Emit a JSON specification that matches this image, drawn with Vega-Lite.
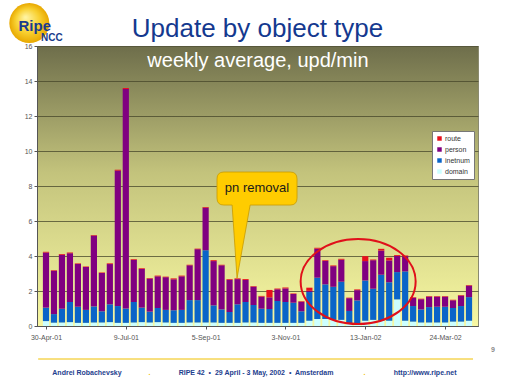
{
  "$schema": "https://vega.github.io/schema/vega-lite/v6.json",
  "width": 441,
  "height": 280,
  "autosize": {"type": "none"},
  "padding": {"left": 37, "top": 46, "right": 34, "bottom": 58},
  "background": "white",
  "title": {
    "text": "Update by object type",
    "fontSize": 26,
    "font": "Liberation Sans",
    "fontWeight": "normal",
    "color": "#14398f",
    "anchor": "middle",
    "baseline": "alphabetic",
    "offset": -60
  },
  "config": {
    "font": "Liberation Sans",
    "view": {
      "fill": {
        "gradient": "linear", "x1": 0, "y1": 0, "x2": 0, "y2": 1,
        "stops": [
          {"offset": 0, "color": "#6e6e4b"},
          {"offset": 0.45, "color": "#c3c37c"},
          {"offset": 1, "color": "#f8f8a2"}
        ]
      },
      "stroke": "#8a8a70",
      "strokeWidth": 1
    },
    "axis": {
      "labelFont": "Liberation Sans",
      "labelFontSize": 7,
      "labelColor": "#555555",
      "tickColor": "#555555",
      "domainColor": "#555555",
      "tickSize": 3
    }
  },
  "layer": [
    {
      "data": {
        "values": [
          {"w":0,"domain":0.28,"inetnum":0.77,"person":3.15,"route":0.04},
          {"w":1,"domain":0.19,"inetnum":0.49,"person":2.48,"route":0.03},
          {"w":2,"domain":0.2,"inetnum":0.79,"person":3.08,"route":0.05},
          {"w":3,"domain":0.22,"inetnum":1.15,"person":2.79,"route":0.04},
          {"w":4,"domain":0.18,"inetnum":0.92,"person":2.45,"route":0.03},
          {"w":5,"domain":0.18,"inetnum":0.74,"person":2.45,"route":0.03},
          {"w":6,"domain":0.2,"inetnum":0.92,"person":4.05,"route":0.03},
          {"w":7,"domain":0.2,"inetnum":0.64,"person":2.19,"route":0.03},
          {"w":8,"domain":0.22,"inetnum":1.02,"person":2.3,"route":0.04},
          {"w":9,"domain":0.18,"inetnum":0.96,"person":7.74,"route":0.05},
          {"w":10,"domain":0.18,"inetnum":0.82,"person":12.54,"route":0.06},
          {"w":11,"domain":0.2,"inetnum":1.17,"person":2.41,"route":0.04},
          {"w":12,"domain":0.22,"inetnum":0.83,"person":2.21,"route":0.04},
          {"w":13,"domain":0.2,"inetnum":0.62,"person":1.89,"route":0.03},
          {"w":14,"domain":0.22,"inetnum":0.81,"person":1.81,"route":0.04},
          {"w":15,"domain":0.2,"inetnum":0.72,"person":1.87,"route":0.03},
          {"w":16,"domain":0.18,"inetnum":0.72,"person":1.77,"route":0.05},
          {"w":17,"domain":0.18,"inetnum":0.74,"person":1.92,"route":0.04},
          {"w":18,"domain":0.2,"inetnum":1.28,"person":1.99,"route":0.03},
          {"w":19,"domain":0.2,"inetnum":1.28,"person":2.91,"route":0.03},
          {"w":20,"domain":0.2,"inetnum":4.13,"person":2.43,"route":0.04},
          {"w":21,"domain":0.2,"inetnum":0.98,"person":2.53,"route":0.05},
          {"w":22,"domain":0.18,"inetnum":0.77,"person":2.52,"route":0.03},
          {"w":23,"domain":0.18,"inetnum":0.62,"person":1.84,"route":0.04},
          {"w":24,"domain":0.18,"inetnum":1.06,"person":1.44,"route":0.04},
          {"w":25,"domain":0.2,"inetnum":1.17,"person":1.26,"route":0.05},
          {"w":26,"domain":0.2,"inetnum":1.0,"person":1.05,"route":0.03},
          {"w":27,"domain":0.18,"inetnum":0.81,"person":0.69,"route":0.04},
          {"w":28,"domain":0.18,"inetnum":0.79,"person":0.67,"route":0.42},
          {"w":29,"domain":0.18,"inetnum":1.25,"person":0.67,"route":0.04},
          {"w":30,"domain":0.18,"inetnum":1.19,"person":0.78,"route":0.05},
          {"w":31,"domain":0.18,"inetnum":1.15,"person":0.5,"route":0.03},
          {"w":32,"domain":0.18,"inetnum":0.66,"person":0.55,"route":0.03},
          {"w":33,"domain":0.3,"inetnum":1.64,"person":0.07,"route":0.18},
          {"w":34,"domain":0.4,"inetnum":2.36,"person":1.66,"route":0.05},
          {"w":35,"domain":0.4,"inetnum":1.98,"person":1.34,"route":0.04},
          {"w":36,"domain":0.35,"inetnum":1.89,"person":1.18,"route":0.04},
          {"w":37,"domain":0.35,"inetnum":2.18,"person":1.26,"route":0.05},
          {"w":38,"domain":0.15,"inetnum":0.71,"person":0.73,"route":0.03},
          {"w":39,"domain":0.15,"inetnum":1.31,"person":0.59,"route":0.04},
          {"w":40,"domain":0.3,"inetnum":2.3,"person":1.11,"route":0.28},
          {"w":41,"domain":0.35,"inetnum":1.78,"person":1.63,"route":0.04},
          {"w":42,"domain":0.3,"inetnum":2.63,"person":1.38,"route":0.1},
          {"w":43,"domain":0.3,"inetnum":2.2,"person":1.25,"route":0.15},
          {"w":44,"domain":1.52,"inetnum":1.56,"person":0.92,"route":0.05},
          {"w":45,"domain":0.3,"inetnum":2.82,"person":0.87,"route":0.04},
          {"w":46,"domain":0.25,"inetnum":0.89,"person":0.48,"route":0.03},
          {"w":47,"domain":0.2,"inetnum":0.75,"person":0.58,"route":0.03},
          {"w":48,"domain":0.2,"inetnum":0.88,"person":0.6,"route":0.03},
          {"w":49,"domain":0.2,"inetnum":0.9,"person":0.58,"route":0.03},
          {"w":50,"domain":0.2,"inetnum":0.9,"person":0.58,"route":0.03},
          {"w":51,"domain":0.25,"inetnum":0.78,"person":0.44,"route":0.03},
          {"w":52,"domain":0.25,"inetnum":0.89,"person":0.6,"route":0.03},
          {"w":53,"domain":0.3,"inetnum":1.35,"person":0.66,"route":0.03}
        ]
      },
      "transform": [
        {"fold": ["domain", "inetnum", "person", "route"], "as": ["type", "upd"]}
      ],
      "mark": {"type": "bar", "size": 6.2, "orient": "vertical"},
      "encoding": {
        "x": {
          "field": "w", "type": "quantitative", "title": null,
          "scale": {"domain": [-0.5, 53.5], "nice": false, "zero": false},
          "axis": {"title": null, "grid": false, "values": [0, 10, 20, 30, 40, 50], "labelExpr": "datum.value == 0 ? '30-Apr-01' : datum.value == 10 ? '9-Jul-01' : datum.value == 20 ? '5-Sep-01' : datum.value == 30 ? '3-Nov-01' : datum.value == 40 ? '13-Jan-02' : '24-Mar-02'", "labelPadding": 4}
        },
        "y": {
          "field": "upd", "type": "quantitative", "stack": "zero", "title": null,
          "scale": {"domain": [0, 16], "nice": false},
          "axis": {"title": null, "values": [0, 2, 4, 6, 8, 10, 12, 14, 16], "grid": true, "gridColor": "#45452a", "gridOpacity": 0.75, "labelPadding": 2, "labelOverlap": false}
        },
        "color": {
          "field": "type", "type": "nominal",
          "scale": {
            "domain": ["route", "person", "inetnum", "domain"],
            "range": ["#e8101c", "#800080", "#0a64c8", "#ccffff"]
          },
          "legend": {
            "title": null, "orient": "none", "legendX": 395, "legendY": 85,
            "fillColor": "white", "strokeColor": "#777777", "padding": 4,
            "labelFontSize": 7, "labelColor": "#333333", "symbolType": "square",
            "symbolSize": 20, "symbolStrokeWidth": 0, "rowPadding": 3, "labelOffset": 2
          }
        },
        "order": {"field": "type", "sort": "ascending"}
      }
    },
    {
      "data": {"values": [{"w": 26.56, "v": 14.8, "label": "weekly average, upd/min"}]},
      "mark": {"type": "text", "fontSize": 20, "color": "white", "align": "center", "baseline": "alphabetic", "font": "Liberation Sans"},
      "encoding": {
        "x": {"field": "w", "type": "quantitative", "title": null, "scale": {"domain": [-0.5, 53.5], "nice": false, "zero": false},
          "axis": {"title": null, "grid": false, "values": [0, 10, 20, 30, 40, 50], "labelExpr": "datum.value == 0 ? '30-Apr-01' : datum.value == 10 ? '9-Jul-01' : datum.value == 20 ? '5-Sep-01' : datum.value == 30 ? '3-Nov-01' : datum.value == 40 ? '13-Jan-02' : '24-Mar-02'", "labelPadding": 4}},
        "y": {"field": "v", "type": "quantitative", "title": null, "scale": {"domain": [0, 16], "nice": false},
          "axis": {"title": null, "values": [0, 2, 4, 6, 8, 10, 12, 14, 16], "grid": true, "gridColor": "#45452a", "gridOpacity": 0.75, "labelPadding": 2, "labelOverlap": false}},
        "text": {"field": "label"}
      }
    },
    {
      "data": {"values": [{"w": 39.11, "v": 2.54}]},
      "mark": {"type": "point", "filled": false, "stroke": "#e0101a", "strokeWidth": 2, "opacity": 1, "size": 13225, "clip": false,
        "shape": "M -1 0 A 1 0.739 0 1 1 1 0 A 1 0.739 0 1 1 -1 0 Z"},
      "encoding": {
        "x": {"field": "w", "type": "quantitative", "title": null, "scale": {"domain": [-0.5, 53.5], "nice": false, "zero": false},
          "axis": {"title": null, "grid": false, "values": [0, 10, 20, 30, 40, 50], "labelExpr": "datum.value == 0 ? '30-Apr-01' : datum.value == 10 ? '9-Jul-01' : datum.value == 20 ? '5-Sep-01' : datum.value == 30 ? '3-Nov-01' : datum.value == 40 ? '13-Jan-02' : '24-Mar-02'", "labelPadding": 4}},
        "y": {"field": "v", "type": "quantitative", "title": null, "scale": {"domain": [0, 16], "nice": false},
          "axis": {"title": null, "values": [0, 2, 4, 6, 8, 10, 12, 14, 16], "grid": true, "gridColor": "#45452a", "gridOpacity": 0.75, "labelPadding": 2, "labelOverlap": false}}
      }
    },
    {
      "data": {"values": [{"w": 26.44, "v": 5.77}]},
      "mark": {"type": "point", "filled": true, "fill": "#ffcc00", "stroke": "#c89a00", "strokeWidth": 0.8, "opacity": 1, "size": 11236, "clip": false,
        "shape": "M -0.625 -1 L 0.625 -1 Q 0.755 -1 0.755 -0.87 L 0.755 -0.507 Q 0.755 -0.377 0.625 -0.377 L -0.13 -0.377 L -0.377 1 L -0.47 -0.377 L -0.625 -0.377 Q -0.755 -0.377 -0.755 -0.507 L -0.755 -0.87 Q -0.755 -1 -0.625 -1 Z"},
      "encoding": {
        "x": {"field": "w", "type": "quantitative", "title": null, "scale": {"domain": [-0.5, 53.5], "nice": false, "zero": false},
          "axis": {"title": null, "grid": false, "values": [0, 10, 20, 30, 40, 50], "labelExpr": "datum.value == 0 ? '30-Apr-01' : datum.value == 10 ? '9-Jul-01' : datum.value == 20 ? '5-Sep-01' : datum.value == 30 ? '3-Nov-01' : datum.value == 40 ? '13-Jan-02' : '24-Mar-02'", "labelPadding": 4}},
        "y": {"field": "v", "type": "quantitative", "title": null, "scale": {"domain": [0, 16], "nice": false},
          "axis": {"title": null, "values": [0, 2, 4, 6, 8, 10, 12, 14, 16], "grid": true, "gridColor": "#45452a", "gridOpacity": 0.75, "labelPadding": 2, "labelOverlap": false}}
      }
    },
    {
      "data": {"values": [{"w": 26.44, "v": 7.86, "label": "pn removal"}]},
      "mark": {"type": "text", "fontSize": 13, "color": "#1a1a1a", "align": "center", "baseline": "middle", "font": "Liberation Sans"},
      "encoding": {
        "x": {"field": "w", "type": "quantitative", "title": null, "scale": {"domain": [-0.5, 53.5], "nice": false, "zero": false},
          "axis": {"title": null, "grid": false, "values": [0, 10, 20, 30, 40, 50], "labelExpr": "datum.value == 0 ? '30-Apr-01' : datum.value == 10 ? '9-Jul-01' : datum.value == 20 ? '5-Sep-01' : datum.value == 30 ? '3-Nov-01' : datum.value == 40 ? '13-Jan-02' : '24-Mar-02'", "labelPadding": 4}},
        "y": {"field": "v", "type": "quantitative", "title": null, "scale": {"domain": [0, 16], "nice": false},
          "axis": {"title": null, "values": [0, 2, 4, 6, 8, 10, 12, 14, 16], "grid": true, "gridColor": "#45452a", "gridOpacity": 0.75, "labelPadding": 2, "labelOverlap": false}},
        "text": {"field": "label"}
      }
    },
    {
      "data": {"values": [{"w": -2.09, "v": 17.31}]},
      "mark": {"type": "point", "shape": "circle", "size": 1600, "filled": true, "opacity": 1, "clip": false,
        "fill": {"gradient": "radial", "x1": 0.4, "y1": 0.35, "r1": 0, "x2": 0.5, "y2": 0.5, "r2": 0.5,
          "stops": [{"offset": 0, "color": "#fff5a8"}, {"offset": 0.6, "color": "#f8d030"}, {"offset": 1, "color": "#e8a800"}]}},
      "encoding": {
        "x": {"field": "w", "type": "quantitative", "title": null, "scale": {"domain": [-0.5, 53.5], "nice": false, "zero": false},
          "axis": {"title": null, "grid": false, "values": [0, 10, 20, 30, 40, 50], "labelExpr": "datum.value == 0 ? '30-Apr-01' : datum.value == 10 ? '9-Jul-01' : datum.value == 20 ? '5-Sep-01' : datum.value == 30 ? '3-Nov-01' : datum.value == 40 ? '13-Jan-02' : '24-Mar-02'", "labelPadding": 4}},
        "y": {"field": "v", "type": "quantitative", "title": null, "scale": {"domain": [0, 16], "nice": false},
          "axis": {"title": null, "values": [0, 2, 4, 6, 8, 10, 12, 14, 16], "grid": true, "gridColor": "#45452a", "gridOpacity": 0.75, "labelPadding": 2, "labelOverlap": false}}
      }
    },
    {
      "data": {"values": [
        {"w": -3.44, "v": 16.86, "label": "Ripe", "size": 15, "style": "italic"},
        {"w": -0.62, "v": 16.27, "label": "NCC", "size": 10, "style": "normal"}
      ]},
      "mark": {"type": "text", "align": "left", "baseline": "alphabetic", "fontWeight": "bold", "color": "#1a3c8c", "clip": false, "font": "Liberation Sans"},
      "encoding": {
        "x": {"field": "w", "type": "quantitative", "title": null, "scale": {"domain": [-0.5, 53.5], "nice": false, "zero": false},
          "axis": {"title": null, "grid": false, "values": [0, 10, 20, 30, 40, 50], "labelExpr": "datum.value == 0 ? '30-Apr-01' : datum.value == 10 ? '9-Jul-01' : datum.value == 20 ? '5-Sep-01' : datum.value == 30 ? '3-Nov-01' : datum.value == 40 ? '13-Jan-02' : '24-Mar-02'", "labelPadding": 4}},
        "y": {"field": "v", "type": "quantitative", "title": null, "scale": {"domain": [0, 16], "nice": false},
          "axis": {"title": null, "values": [0, 2, 4, 6, 8, 10, 12, 14, 16], "grid": true, "gridColor": "#45452a", "gridOpacity": 0.75, "labelPadding": 2, "labelOverlap": false}},
        "text": {"field": "label"},
        "size": {"field": "size", "type": "quantitative", "scale": null, "legend": null},
        "fontStyle": {"field": "style"}
      }
    },
    {
      "data": {"values": [{"w": -0.98, "w2": 53.5, "v": -1.886}]},
      "mark": {"type": "rule", "color": "#f0c000", "strokeWidth": 1, "clip": false},
      "encoding": {
        "x": {"field": "w", "type": "quantitative", "title": null, "scale": {"domain": [-0.5, 53.5], "nice": false, "zero": false},
          "axis": {"title": null, "grid": false, "values": [0, 10, 20, 30, 40, 50], "labelExpr": "datum.value == 0 ? '30-Apr-01' : datum.value == 10 ? '9-Jul-01' : datum.value == 20 ? '5-Sep-01' : datum.value == 30 ? '3-Nov-01' : datum.value == 40 ? '13-Jan-02' : '24-Mar-02'", "labelPadding": 4}},
        "x2": {"field": "w2"},
        "y": {"field": "v", "type": "quantitative", "title": null, "scale": {"domain": [0, 16], "nice": false},
          "axis": {"title": null, "values": [0, 2, 4, 6, 8, 10, 12, 14, 16], "grid": true, "gridColor": "#45452a", "gridOpacity": 0.75, "labelPadding": 2, "labelOverlap": false}}
      }
    },
    {
      "data": {"values": [
        {"w": 5.13, "v": -2.8, "label": "Andrei Robachevsky", "tone": "text"},
        {"w": 12.97, "v": -2.8, "label": ".", "tone": "dot"},
        {"w": 26.32, "v": -2.8, "label": "RIPE 42 \u00a0•\u00a0 29 April - 3 May, 2002 \u00a0•\u00a0 Amsterdam", "tone": "text"},
        {"w": 39.9, "v": -2.8, "label": ".", "tone": "dot"},
        {"w": 47.5, "v": -2.8, "label": "http://www.ripe.net", "tone": "text"},
        {"w": 56, "v": -1.5, "label": "9", "tone": "page"}
      ]},
      "mark": {"type": "text", "align": "center", "baseline": "alphabetic", "fontSize": 7, "fontWeight": "bold", "clip": false, "font": "Liberation Sans"},
      "encoding": {
        "x": {"field": "w", "type": "quantitative", "title": null, "scale": {"domain": [-0.5, 53.5], "nice": false, "zero": false},
          "axis": {"title": null, "grid": false, "values": [0, 10, 20, 30, 40, 50], "labelExpr": "datum.value == 0 ? '30-Apr-01' : datum.value == 10 ? '9-Jul-01' : datum.value == 20 ? '5-Sep-01' : datum.value == 30 ? '3-Nov-01' : datum.value == 40 ? '13-Jan-02' : '24-Mar-02'", "labelPadding": 4}},
        "y": {"field": "v", "type": "quantitative", "title": null, "scale": {"domain": [0, 16], "nice": false},
          "axis": {"title": null, "values": [0, 2, 4, 6, 8, 10, 12, 14, 16], "grid": true, "gridColor": "#45452a", "gridOpacity": 0.75, "labelPadding": 2, "labelOverlap": false}},
        "text": {"field": "label"},
        "color": {"field": "tone", "type": "nominal", "scale": {"domain": ["text", "dot", "page"], "range": ["#1e3e8e", "#f0c000", "#8a8a8a"]}, "legend": null}
      }
    }
  ],
  "resolve": {"scale": {"color": "independent"}}
}
